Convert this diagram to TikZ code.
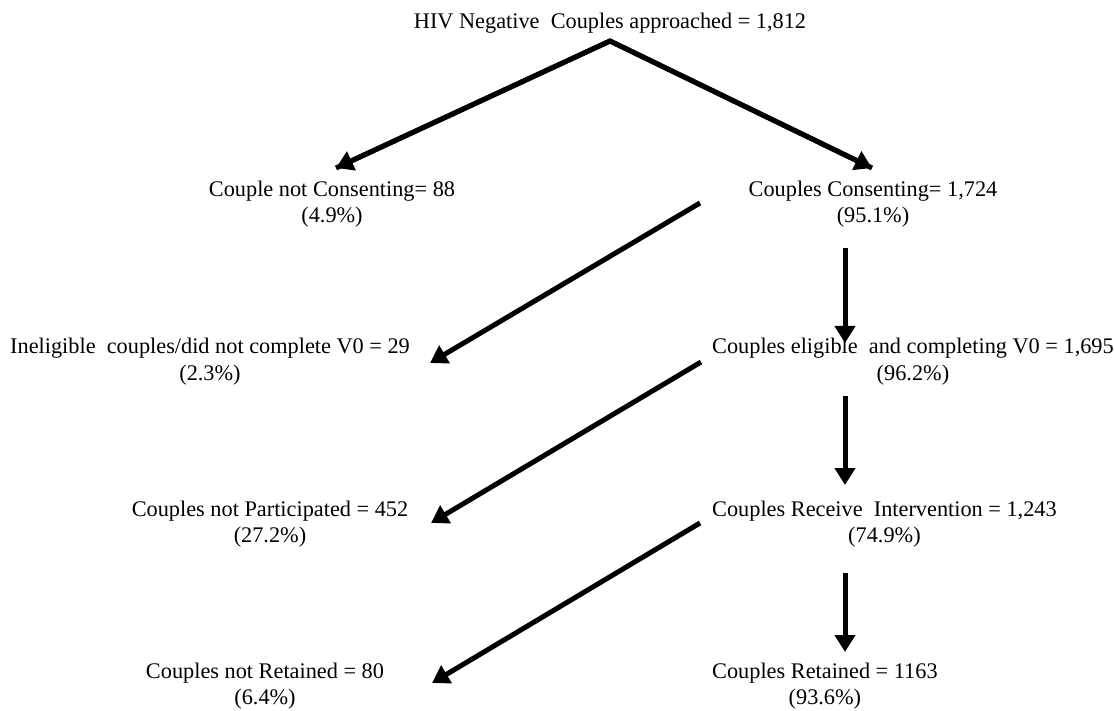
\documentclass[tikz,border=0pt]{standalone}
\usepackage{fontspec}
\setmainfont{Liberation Serif}
\usetikzlibrary{arrows.meta}
\begin{document}
\begin{tikzpicture}[x=1pt,y=-1pt,
  lbl/.style={inner sep=0pt, align=center, font=\fontsize{22.3}{26}\selectfont},
  arr/.style={line width=5pt, -{Triangle[length=17pt,width=20pt]}}]
\useasboundingbox[fill=white] (0,0) rectangle (1114,711);
% nodes (anchored at baseline of last line)
\node[lbl, anchor=base] (top) at (610,29) {HIV Negative\ \ Couples approached = 1,812};
\node[lbl, anchor=base] (nc) at (332,223) {Couple not Consenting= 88\\(4.9\%)};
\node[lbl, anchor=base] (c) at (873,223) {Couples Consenting= 1,724\\(95.1\%)};
\node[lbl, anchor=base] (inel) at (210,380) {Ineligible\ \ couples/did not complete V0 = 29\\(2.3\%)};
\node[lbl, anchor=base west] (el) at (712,380) {Couples eligible\ \ and completing V0 = 1,695\\(96.2\%)};
\node[lbl, anchor=base] (np) at (270,542) {Couples not Participated = 452\\(27.2\%)};
\node[lbl, anchor=base west] (ri) at (712,542) {Couples Receive\ \ Intervention = 1,243\\(74.9\%)};
\node[lbl, anchor=base] (nr) at (265,704) {Couples not Retained = 80\\(6.4\%)};
\node[lbl, anchor=base west] (r) at (712,704) {Couples Retained = 1163\\(93.6\%)};
% connector end points
\coordinate (apex) at (610,41);
\coordinate (ncT) at (336,168);
\coordinate (cT) at (872,168);
\coordinate (d1s) at (700,203);
\coordinate (d1e) at (430,363);
\coordinate (v1s) at (845,248);
\coordinate (v1e) at (845,343);
\coordinate (d2s) at (701,362);
\coordinate (d2e) at (431,523);
\coordinate (v2s) at (845,396);
\coordinate (v2e) at (845,485);
\coordinate (d3s) at (700,523);
\coordinate (d3e) at (432,683);
\coordinate (v3s) at (845,573);
\coordinate (v3e) at (845,652);
% connectors
\draw[line width=5pt, line join=miter] (ncT) -- (apex) -- (cT);
\draw[arr] (apex) -- (ncT);
\draw[arr] (apex) -- (cT);
\draw[arr] (d1s) -- (d1e);
\draw[arr] (v1s) -- (v1e);
\draw[arr] (d2s) -- (d2e);
\draw[arr] (v2s) -- (v2e);
\draw[arr] (d3s) -- (d3e);
\draw[arr] (v3s) -- (v3e);
\end{tikzpicture}
\end{document}
